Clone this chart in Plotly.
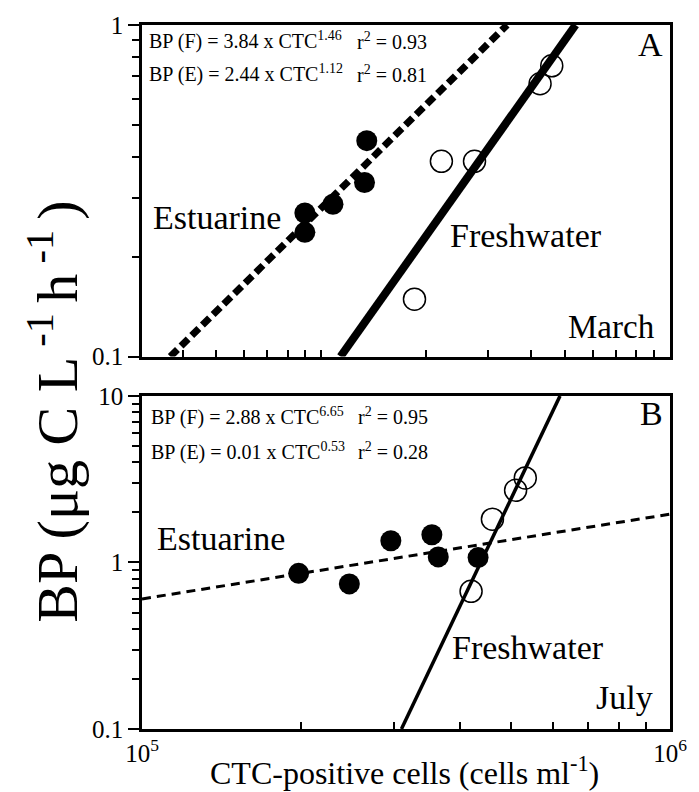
import plotly.graph_objects as go

# ---- data -------------------------------------------------------------
# March (panel A)
mar_est_ctc = [0.897e5, 0.897e5, 1.08e5, 1.33e5, 1.35e5]
mar_est_bp = [0.271, 0.237, 0.288, 0.335, 0.448]
mar_fw_ctc = [1.85e5, 2.21e5, 2.75e5, 4.24e5, 4.58e5]
mar_fw_bp = [0.149, 0.388, 0.388, 0.665, 0.753]
# fitted lines (end points)
mar_est_fit_ctc = [3.69e4, 3.41e5]
mar_est_fit_bp = [0.1, 1.0]
mar_fw_fit_ctc = [1.135e5, 5.36e5]
mar_fw_fit_bp = [0.1, 1.0]

# July (panel B)
jul_est_ctc = [1.98e5, 2.47e5, 2.96e5, 3.54e5, 3.64e5, 4.33e5]
jul_est_bp = [0.86, 0.743, 1.35, 1.466, 1.08, 1.07]
jul_fw_ctc = [4.20e5, 4.61e5, 5.10e5, 5.32e5]
jul_fw_bp = [0.671, 1.82, 2.71, 3.22]
jul_est_fit_ctc = [1.0e5, 1.0e6]
jul_est_fit_bp = [0.604, 1.95]
jul_fw_fit_ctc = [3.10e5, 6.19e5]
jul_fw_fit_bp = [0.1, 10.0]

# tick values
mar_x_minor = [4e4, 5e4, 6e4, 7e4, 8e4, 9e4, 1e5, 2e5, 3e5, 4e5, 5e5, 6e5, 7e5, 8e5, 9e5]
jul_x_minor = [2e5, 3e5, 4e5, 5e5, 6e5, 7e5, 8e5, 9e5]
jul_x_major = [1e5, 1e6]
jul_x_labels = ["10<sup>5</sup>", "10<sup>6</sup>"]
mar_y_major = [0.1, 1]
mar_y_labels = ["0.1", "1"]
mar_y_minor = [0.2, 0.3, 0.4, 0.5, 0.6, 0.7, 0.8, 0.9]
jul_y_major = [0.1, 1, 10]
jul_y_labels = ["0.1", "1", "10"]
jul_y_minor = [0.2, 0.3, 0.4, 0.5, 0.6, 0.7, 0.8, 0.9, 2, 3, 4, 5, 6, 7, 8, 9]

# ---- figure geometry (pixels) -----------------------------------------
W, H = 699, 792
L, R, T, B = 142, 672, 22, 729
A_BOTTOM = 355
B_TOP = 394.5

FONT = "Liberation Serif, Times New Roman, serif"


def px(xp):
    return (xp - L) / (R - L)


def py(yp):
    return (B - yp) / (B - T)


fig = go.Figure()

# panel A
fig.add_trace(go.Scatter(x=mar_est_fit_ctc, y=mar_est_fit_bp, mode="lines",
                         line=dict(color="black", width=7, dash="10px,5px"),
                         xaxis="x", yaxis="y", showlegend=False))
fig.add_trace(go.Scatter(x=mar_fw_fit_ctc, y=mar_fw_fit_bp, mode="lines",
                         line=dict(color="black", width=8),
                         xaxis="x", yaxis="y", showlegend=False))
fig.add_trace(go.Scatter(x=mar_est_ctc, y=mar_est_bp, mode="markers",
                         marker=dict(symbol="circle", size=21, color="black"),
                         xaxis="x", yaxis="y", showlegend=False))
fig.add_trace(go.Scatter(x=mar_fw_ctc, y=mar_fw_bp, mode="markers",
                         marker=dict(symbol="circle-open", size=22, color="black",
                                     line=dict(width=1.5, color="black")),
                         xaxis="x", yaxis="y", showlegend=False))

# panel B
fig.add_trace(go.Scatter(x=jul_est_fit_ctc, y=jul_est_fit_bp, mode="lines",
                         line=dict(color="black", width=3, dash="9px,6px"),
                         xaxis="x2", yaxis="y2", showlegend=False))
fig.add_trace(go.Scatter(x=jul_fw_fit_ctc, y=jul_fw_fit_bp, mode="lines",
                         line=dict(color="black", width=3.5),
                         xaxis="x2", yaxis="y2", showlegend=False))
fig.add_trace(go.Scatter(x=jul_est_ctc, y=jul_est_bp, mode="markers",
                         marker=dict(symbol="circle", size=21, color="black"),
                         xaxis="x2", yaxis="y2", showlegend=False))
fig.add_trace(go.Scatter(x=jul_fw_ctc, y=jul_fw_bp, mode="markers",
                         marker=dict(symbol="circle-open", size=22, color="black",
                                     line=dict(width=1.5, color="black")),
                         xaxis="x2", yaxis="y2", showlegend=False))

axis_common = dict(type="log", showgrid=False, zeroline=False, showline=True,
                   linecolor="black", linewidth=2.5, mirror=True,
                   tickcolor="black", tickwidth=2,
                   tickfont=dict(family=FONT, size=25, color="black"))

fig.update_layout(
    width=W, height=H,
    margin=dict(l=L, r=W - R, t=T, b=H - B, pad=0),
    plot_bgcolor="white", paper_bgcolor="white",
    xaxis=dict(axis_common, domain=[0, 1], range=[6 - (R - L) / 350, 6],
               anchor="y", tickvals=[], ticks="",
               minor=dict(tickvals=mar_x_minor, ticks="inside", ticklen=7,
                          tickcolor="black", tickwidth=2)),
    yaxis=dict(axis_common, domain=[py(A_BOTTOM), 1], range=[-1, 0], anchor="x",
               tickvals=mar_y_major, ticktext=mar_y_labels, ticks="outside",
               ticklen=11,
               minor=dict(tickvals=mar_y_minor, ticks="outside", ticklen=7,
                          tickcolor="black", tickwidth=2)),
    xaxis2=dict(axis_common, domain=[0, 1], range=[5, 6], anchor="y2",
                tickvals=jul_x_major, ticktext=jul_x_labels, ticks="",
                minor=dict(tickvals=jul_x_minor, ticks="inside", ticklen=7,
                           tickcolor="black", tickwidth=2)),
    yaxis2=dict(axis_common, domain=[0, py(B_TOP)], range=[-1, 1], anchor="x2",
                tickvals=jul_y_major, ticktext=jul_y_labels, ticks="outside",
                ticklen=11,
                minor=dict(tickvals=jul_y_minor, ticks="outside", ticklen=7,
                           tickcolor="black", tickwidth=2)),
)


def label(text, xp, yp, size, xanchor="left", yanchor="middle", angle=0):
    fig.add_annotation(text=text, x=px(xp), y=py(yp), xref="paper", yref="paper",
                       xanchor=xanchor, yanchor=yanchor, showarrow=False,
                       textangle=angle,
                       font=dict(family=FONT, size=size, color="black"))


# panel A text
label("BP (F) = 3.84 x CTC<sup>1.46</sup>", 147, 38, 20)
label("r<sup>2</sup> = 0.93", 356, 38, 20)
label("BP (E) = 2.44 x CTC<sup>1.12</sup>", 147, 71, 20)
label("r<sup>2</sup> = 0.81", 356, 71, 20)
label("A", 667, 42, 34, xanchor="right")
label("Estuarine", 151, 215, 34)
label("Freshwater", 449, 233, 34)
label("March", 659, 325, 33, xanchor="right")

# panel B text
label("BP (F) = 2.88 x CTC<sup>6.65</sup>", 149, 415, 20)
label("r<sup>2</sup> = 0.95", 357, 415, 20)
label("BP (E) = 0.01 x CTC<sup>0.53</sup>", 149, 450, 20)
label("r<sup>2</sup> = 0.28", 357, 450, 20)
label("B", 667, 412, 34, xanchor="right")
label("Estuarine", 155, 538, 34)
label("Freshwater", 451, 647, 34)
label("July", 657, 697, 34, xanchor="right")

# axis titles
label("BP (μg C L<sup> -1 </sup>h<sup> -1 </sup>)", 53, 410, 58,
      xanchor="center", angle=-90)
label("CTC-positive cells (cells ml<sup>-1</sup>)", 405, 771, 32, xanchor="center")

fig.write_html("out.html")
